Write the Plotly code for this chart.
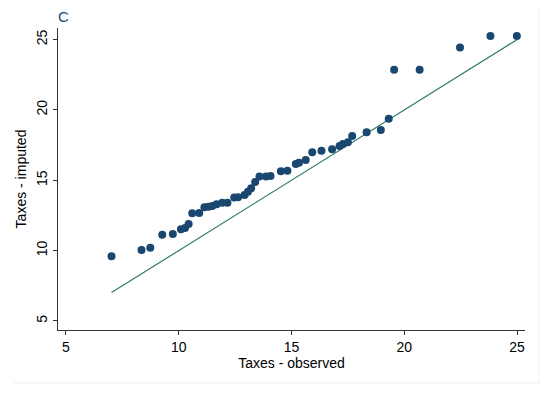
import plotly.graph_objects as go

observed = [7.02, 8.35, 8.74, 9.27, 9.74, 10.10, 10.28, 10.44, 10.60, 10.91,
            11.14, 11.32, 11.49, 11.68, 11.93, 12.16, 12.46, 12.63, 12.92, 13.07,
            13.21, 13.39, 13.58, 13.87, 14.07, 14.53, 14.82, 15.19, 15.33, 15.63,
            15.92, 16.33, 16.80, 17.13, 17.28, 17.50, 17.69, 18.33, 18.96, 19.31,
            19.55, 20.68, 22.47, 23.82, 24.99]
imputed = [9.60, 10.05, 10.21, 11.13, 11.18, 11.52, 11.61, 11.89, 12.65, 12.68,
           13.08, 13.12, 13.17, 13.29, 13.41, 13.41, 13.77, 13.79, 13.96, 14.19,
           14.43, 14.88, 15.26, 15.26, 15.31, 15.64, 15.68, 16.16, 16.25, 16.44,
           16.99, 17.10, 17.20, 17.44, 17.58, 17.70, 18.15, 18.41, 18.57, 19.38,
           22.85, 22.85, 24.43, 25.26, 25.26]
ref_line = [min(observed), max(observed)]
tick_vals = [5, 10, 15, 20, 25]

FONT = "Liberation Sans, Arial, sans-serif"
NAVY = "#1a476f"
TEAL = "#2e7b6b"

fig = go.Figure()
fig.add_trace(go.Scatter(x=ref_line, y=ref_line, mode="lines",
                         line=dict(color=TEAL, width=1.2), hoverinfo="skip"))
fig.add_trace(go.Scatter(x=observed, y=imputed, mode="markers",
                         marker=dict(color=NAVY, size=8, line=dict(width=0)),
                         hoverinfo="skip"))

# page body has 8px margin; figure coords = page coords - 8
OFF = 8
W, H = 550, 397
ml, mt = 53 - OFF, 28 - OFF
mr, mb = W - (525 - OFF), H - (330 - OFF)
pw, ph = W - ml - mr, H - mt - mb

def px(x):
    return (x - OFF - ml) / pw

def py(y):
    return (H - mb - (y - OFF)) / ph

fig.update_layout(
    width=W, height=H,
    margin=dict(l=ml, r=mr, t=mt, b=mb, pad=0),
    paper_bgcolor="white", plot_bgcolor="white",
    showlegend=False,
    font=dict(family=FONT, size=14, color="black"),
    xaxis=dict(range=[4.649, 25.351], tickvals=tick_vals, showgrid=False, zeroline=False,
               showline=True, linecolor="#333333", linewidth=1.2,
               ticks="outside", ticklen=4, tickcolor="#333333", tickwidth=1,
               tickfont=dict(size=14),
               title=dict(text="Taxes - observed", font=dict(size=14), standoff=0)),
    yaxis=dict(range=[4.36, 25.82], tickvals=tick_vals, showgrid=False, zeroline=False,
               showline=True, linecolor="#333333", linewidth=1.2,
               ticks="outside", ticklen=4, tickcolor="#333333", tickwidth=1,
               tickangle=-90, tickfont=dict(size=14),
               title=dict(text="Taxes - imputed", font=dict(size=14), standoff=4)),
    annotations=[dict(text="C", xref="paper", yref="paper", x=px(59), y=py(17),
                      xanchor="center", yanchor="middle", showarrow=False, borderpad=0,
                      font=dict(size=15, color=NAVY, family=FONT))],
    shapes=[
        dict(type="line", xref="paper", yref="paper", x0=px(8), x1=px(540),
             y0=py(383), y1=py(383), line=dict(color="#efefef", width=1)),
        dict(type="line", xref="paper", yref="paper", x0=px(539), x1=px(539),
             y0=py(8), y1=py(383), line=dict(color="#f3f3f3", width=1)),
    ],
)

fig.write_html("out.html")
